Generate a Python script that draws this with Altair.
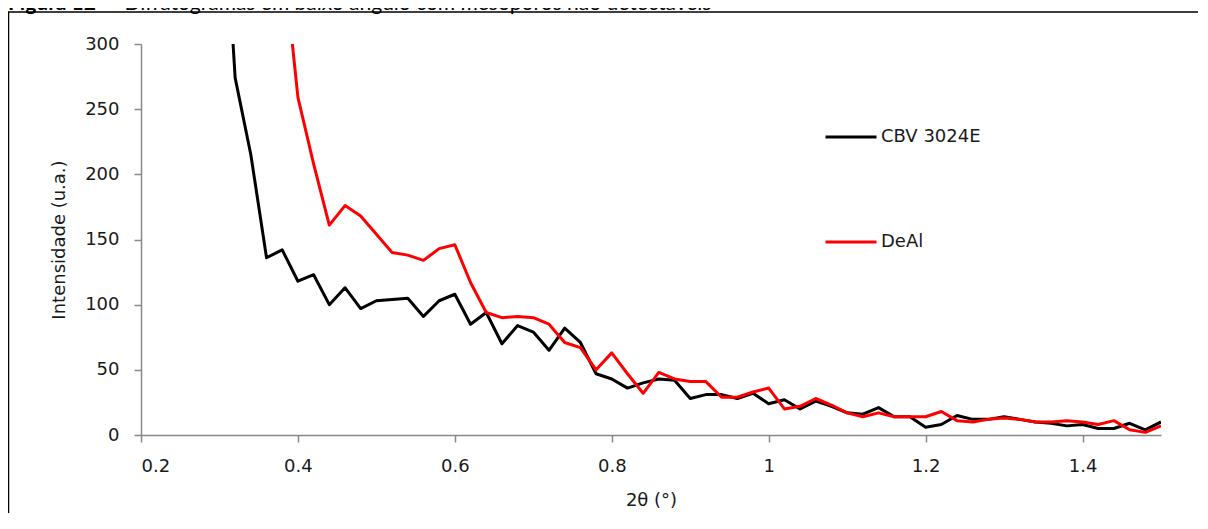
import altair as alt
import pandas as pd

# ---- data ----
theta_cbv = [0.30, 0.32, 0.34, 0.36, 0.38, 0.40, 0.42, 0.44, 0.46, 0.48,
             0.50, 0.52, 0.54, 0.56, 0.58, 0.60, 0.62, 0.64, 0.66, 0.68,
             0.70, 0.72, 0.74, 0.76, 0.78, 0.80, 0.82, 0.84, 0.86, 0.88,
             0.90, 0.92, 0.94, 0.96, 0.98, 1.00, 1.02, 1.04, 1.06, 1.08,
             1.10, 1.12, 1.14, 1.16, 1.18, 1.20, 1.22, 1.24, 1.26, 1.28,
             1.30, 1.32, 1.34, 1.36, 1.38, 1.40, 1.42, 1.44, 1.46, 1.48,
             1.50]
int_cbv = [470, 274, 215, 136, 142, 118, 123, 100, 113, 97,
           103, 104, 105, 91, 103, 108, 85, 94, 70, 84,
           79, 65, 82, 71, 47, 43, 36, 40, 43, 42,
           28, 31, 31, 28, 32, 24, 27, 20, 26, 22,
           17, 16, 21, 14, 14, 6, 8, 15, 12, 12,
           14, 12, 10, 9, 7, 8, 5, 5, 9, 4,
           10]

theta_deal = [0.38, 0.40, 0.42, 0.44, 0.46, 0.48,
              0.50, 0.52, 0.54, 0.56, 0.58, 0.60, 0.62, 0.64, 0.66, 0.68,
              0.70, 0.72, 0.74, 0.76, 0.78, 0.80, 0.82, 0.84, 0.86, 0.88,
              0.90, 0.92, 0.94, 0.96, 0.98, 1.00, 1.02, 1.04, 1.06, 1.08,
              1.10, 1.12, 1.14, 1.16, 1.18, 1.20, 1.22, 1.24, 1.26, 1.28,
              1.30, 1.32, 1.34, 1.36, 1.38, 1.40, 1.42, 1.44, 1.46, 1.48,
              1.50]
int_deal = [375, 259, 208, 161, 176, 168,
            154, 140, 138, 134, 143, 146, 117, 94, 90, 91,
            90, 85, 71, 67, 50, 63, 47, 32, 48, 43,
            41, 41, 29, 29, 33, 36, 20, 22, 28, 23,
            17, 14, 17, 14, 14, 14, 18, 11, 10, 12,
            13, 12, 10, 10, 11, 10, 8, 11, 4, 2,
            7]

series_names = ["CBV 3024E", "DeAl"]
series_colors = ["#000000", "#ff0000"]
x_ticks = [0.2, 0.4, 0.6, 0.8, 1.0, 1.2, 1.4]
y_ticks = [0, 50, 100, 150, 200, 250, 300]
x_title = "2θ (°)"
y_title = "Intensidade (u.a.)"
caption_bold = "Figura 12"
caption_rest = "–  Difratogramas em baixo ângulo com mesoporos não detectáveis"

df = pd.concat([
    pd.DataFrame({"theta": theta_cbv, "intensity": int_cbv, "series": series_names[0]}),
    pd.DataFrame({"theta": theta_deal, "intensity": int_deal, "series": series_names[1]}),
], ignore_index=True)

FONT = "DejaVu Sans"
AXIS_GRAY = "#898989"
TEXT = "#1a1a1a"

lines = alt.Chart(df).mark_line(clip=True, strokeWidth=3, strokeJoin="round").encode(
    x=alt.X("theta:Q",
            scale=alt.Scale(domain=[0.2, 1.5], nice=False, zero=False),
            axis=alt.Axis(values=x_ticks, format="~g", title=x_title,
                          labelPadding=15, titlePadding=16)),
    y=alt.Y("intensity:Q",
            scale=alt.Scale(domain=[0, 300], nice=False),
            axis=alt.Axis(values=y_ticks, title=y_title,
                          labelPadding=15, titlePadding=16)),
    color=alt.Color("series:N",
                    scale=alt.Scale(domain=series_names, range=series_colors),
                    legend=alt.Legend(title=None, orient="none",
                                      legendX=683, legendY=66,
                                      symbolType="stroke", symbolSize=2601,
                                      symbolStrokeWidth=3, labelOffset=3,
                                      rowPadding=69, padding=0,
                                      labelFont=FONT, labelFontSize=18,
                                      labelColor=TEXT)),
)

one = pd.DataFrame({"k": [0]})

box = alt.Chart(one).mark_rect(filled=False, stroke="#000000", strokeWidth=1.5).encode(
    x=alt.value(-132.5), x2=alt.value(1400), y=alt.value(-32), y2=alt.value(700)
)

cap1 = alt.Chart(one).mark_text(align="left", baseline="alphabetic", font="Lato",
                                fontSize=21, fontWeight="bold", color="#000000").encode(
    x=alt.value(-133), y=alt.value(-34), text=alt.value(caption_bold)
)
cap2 = alt.Chart(one).mark_text(align="left", baseline="alphabetic", font="Lato",
                                fontSize=21, color="#000000").encode(
    x=alt.value(-34), y=alt.value(-34), text=alt.value(caption_rest)
)

chart = alt.layer(box, cap1, cap2, lines).properties(
    width=1020, height=391,
    padding={"left": 133, "top": 36, "right": 37, "bottom": 78},
    autosize=alt.AutoSizeParams(type="none"),
).configure_view(stroke=None).configure_axis(
    grid=False,
    domainColor=AXIS_GRAY, domainWidth=1.5,
    tickColor=AXIS_GRAY, tickWidth=1.5, tickSize=7,
    labelFont=FONT, labelFontSize=18, labelColor=TEXT,
    titleFont=FONT, titleFontSize=18, titleColor=TEXT, titleFontWeight="normal",
)

chart.save("out.html", embed_options={"renderer": "svg", "actions": False})
